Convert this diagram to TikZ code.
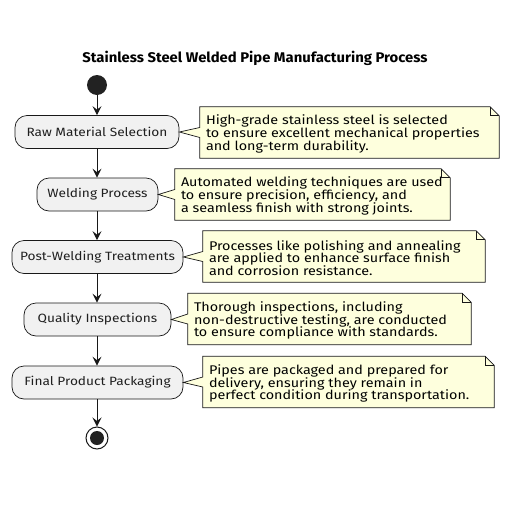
\documentclass[tikz,border=0pt]{standalone}
\usepackage{fontspec}
\setmainfont{Fira Sans}
\newfontfamily\notefont[FakeStretch=1.14]{Fira Sans}
\newfontfamily\boxfont[FakeStretch=1.14]{Fira Sans}
\newfontfamily\titlefont[FakeStretch=1.06]{Fira Sans}
\usetikzlibrary{arrows.meta}
\definecolor{linec}{HTML}{181818}
\definecolor{boxfill}{HTML}{F1F1F1}
\definecolor{notefill}{HTML}{FEFFDD}
\definecolor{dotc}{HTML}{222222}
\begin{document}
\begin{tikzpicture}[x=1pt,y=-1pt,
  actbox/.style={draw=linec, line width=0.7pt, fill=boxfill, rounded corners=12pt,
    minimum height=33pt, inner sep=0pt, font=\boxfont\fontsize{12}{14}\selectfont, text=black!88},
  noteshape/.style={draw=none, inner sep=0pt, minimum height=51pt},
  notetext/.style={anchor=west, inner sep=0pt, align=left,
    font=\notefont\fontsize{12.6}{12.6}\selectfont, text=black},
  noteline/.style={draw=linec, line width=0.7pt, fill=notefill, line join=miter},
  flow/.style={draw=linec, line width=1pt, -{Stealth[length=9pt,width=9pt,inset=3.5pt]}},
]
\useasboundingbox (0,0) rectangle (512,512);
\node[font=\titlefont\bfseries\fontsize{14}{16}\selectfont] (title) at (255,58) {Stainless Steel Welded Pipe Manufacturing Process};

\node[circle, fill=dotc, minimum size=20pt, inner sep=0pt] (start) at (97,85) {};
\node[actbox, minimum width=164pt] (b1) at (97,132) {Raw Material Selection};
\node[actbox, minimum width=121pt] (b2) at (97.5,194.5) {Welding Process};
\node[actbox, minimum width=171pt] (b3) at (97.5,257) {Post-Welding Treatments};
\node[actbox, minimum width=147pt] (b4) at (97.5,319.5) {Quality Inspections};
\node[actbox, minimum width=171pt] (b5) at (97.5,382.5) {Final Product Packaging};
\node[circle, draw=linec, line width=1pt, fill=white, minimum size=22pt, inner sep=0pt] (end) at (97,438) {};
\node[circle, fill=dotc, minimum size=14pt, inner sep=0pt] (endin) at (97,438) {};

\draw[flow] (start.south) -- (b1.north);
\draw[flow] (b1.south) -- (b2.north -| b1.south);
\draw[flow] (b2.south -| b1.south) -- (b3.north -| b1.south);
\draw[flow] (b3.south -| b1.south) -- (b4.north -| b1.south);
\draw[flow] (b4.south -| b1.south) -- (b5.north -| b1.south);
\draw[flow] (b5.south -| b1.south) -- (end.north);

% notes
\def\fold{9}
\newcommand{\notepath}[2]{% #1 note node, #2 box node
  \path[noteline] (#1.north west) -- ([xshift=-\fold pt]#1.north east) -- ([yshift=-\fold pt]#1.north east)
    -- (#1.south east) -- (#1.south west) -- ([yshift=-5pt]#1.west) -- (#2.east) -- ([yshift=5pt]#1.west) -- cycle;
  \draw[linec, line width=0.7pt] ([xshift=-\fold pt]#1.north east) -- ([xshift=-\fold pt, yshift=-\fold pt]#1.north east) -- ([yshift=-\fold pt]#1.north east);
}

\node[noteshape, minimum width=299pt] (n1) at (349.5,132.5) {};
\node[noteshape, minimum width=275pt] (n2) at (312.5,194.5) {};
\node[noteshape, minimum width=282pt] (n3) at (344,256.5) {};
\node[noteshape, minimum width=283pt] (n4) at (329.5,319) {};
\node[noteshape, minimum width=291pt] (n5) at (348.5,382) {};
\notepath{n1}{b1}
\notepath{n2}{b2}
\notepath{n3}{b3}
\notepath{n4}{b4}
\notepath{n5}{b5}
\node[notetext] (t1) at ([xshift=6pt,yshift=-1.5pt]n1.west) {High-grade stainless steel is selected\\to ensure excellent mechanical properties\\and long-term durability.};
\node[notetext] (t2) at ([xshift=6pt,yshift=-1.5pt]n2.west) {Automated welding techniques are used\\to ensure precision, efficiency, and\\a seamless finish with strong joints.};
\node[notetext] (t3) at ([xshift=6pt,yshift=-1.5pt]n3.west) {Processes like polishing and annealing\\are applied to enhance surface finish\\and corrosion resistance.};
\node[notetext] (t4) at ([xshift=6pt,yshift=-1.5pt]n4.west) {Thorough inspections, including\\non-destructive testing, are conducted\\to ensure compliance with standards.};
\node[notetext] (t5) at ([xshift=6pt,yshift=-1.5pt]n5.west) {Pipes are packaged and prepared for\\delivery, ensuring they remain in\\perfect condition during transportation.};
\end{tikzpicture}
\end{document}
